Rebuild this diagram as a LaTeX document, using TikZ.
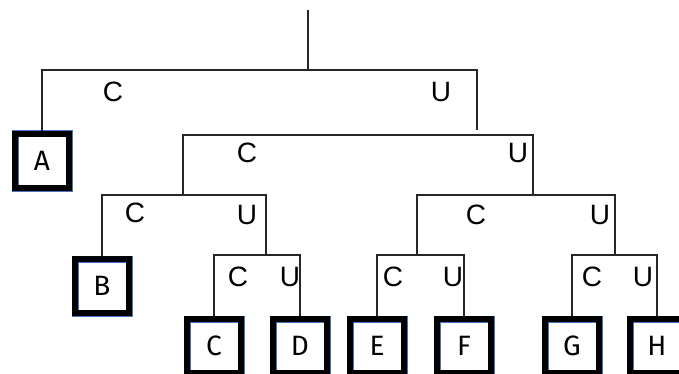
\documentclass[tikz,border=0pt]{standalone}
\usepackage{fontspec}
\setmainfont{Liberation Sans}
\newfontfamily\leaffont{Fira Sans}
\definecolor{edgeblue}{RGB}{68,114,196}
\tikzset{
  leaf/.style={draw=black,line width=5.5pt,minimum size=54pt,inner sep=0pt,
    preaction={draw=edgeblue,line width=7pt},font=\leaffont\fontsize{28}{32}\selectfont},
  branch/.style={font=\fontsize{28}{32}\selectfont,inner sep=0pt},
  tree/.style={line width=1.2pt,draw=black!85}
}
\begin{document}
\begin{tikzpicture}[x=1pt,y=-1pt]
\useasboundingbox (0,0) rectangle (679,374);
\clip (0,0) rectangle (679,374);
\node[leaf] (A) at (42,161) {A};
\node[leaf] (B) at (102,286) {B};
\node[leaf] (C) at (214,346) {C};
\node[leaf] (D) at (300,346) {D};
\node[leaf] (E) at (377,346) {E};
\node[leaf] (F) at (464,346) {F};
\node[leaf] (G) at (572,346) {G};
\node[leaf] (H) at (657,346) {H};
\coordinate (top) at (308,10);
\coordinate (r0) at (308,70);
\coordinate (u0) at (477,130);
\coordinate (r1) at (358,135);
\coordinate (l2) at (183,195);
\coordinate (r2) at (533,195);
\coordinate (l3) at (266,255);
\coordinate (m3) at (417,255);
\coordinate (r3) at (615,255);
\draw[tree] (top) -- (r0);
\draw[tree] (A.north) |- (r0) -| (u0);
\draw[tree] (l2) |- (r1) -| (r2);
\draw[tree] (B.north) |- (l2) -| (l3);
\draw[tree] (m3) |- (r2) -| (r3);
\draw[tree] (C.north) |- (l3) -| (D.north);
\draw[tree] (E.north) |- (m3) -| (F.north);
\draw[tree] (G.north) |- (r3) -| (H.north);
\node[branch] (c0) at (113,92) {C};
\node[branch] (u0l) at (441,92) {U};
\node[branch] (c1) at (247,153) {C};
\node[branch] (u1) at (518,153) {U};
\node[branch] (c2) at (135,213) {C};
\node[branch] (u2) at (247,215) {U};
\node[branch] (c3) at (476,215) {C};
\node[branch] (u3) at (600,215) {U};
\node[branch] (c4) at (238,277) {C};
\node[branch] (u4) at (290,277) {U};
\node[branch] (c5) at (393,277) {C};
\node[branch] (u5) at (453,277) {U};
\node[branch] (c6) at (592,277) {C};
\node[branch] (u6) at (643,277) {U};
\end{tikzpicture}
\end{document}
